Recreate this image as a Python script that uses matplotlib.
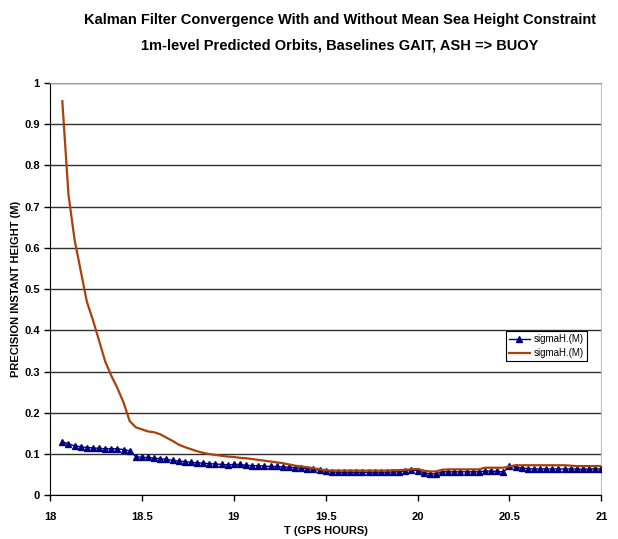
import numpy as np
import matplotlib.pyplot as plt

# time in GPS hours, one epoch every 2 minutes
t_start = 18.0667
n_pts = 89
hours = t_start + np.arange(n_pts) / 30.0

# sigmaH with mean sea height constraint (blue triangles)
sigma_constr = [0.130, 0.125, 0.120, 0.118, 0.116, 0.115, 0.114, 0.113, 0.113, 0.113,
                0.111, 0.108, 0.094, 0.092, 0.092, 0.090, 0.089, 0.087, 0.085, 0.083,
                0.082, 0.080, 0.079, 0.078, 0.077, 0.076, 0.075, 0.074, 0.075, 0.075,
                0.073, 0.072, 0.072, 0.071, 0.070, 0.070, 0.069, 0.068, 0.067, 0.066,
                0.065, 0.063, 0.061, 0.059, 0.057, 0.056, 0.056, 0.056, 0.056, 0.056,
                0.056, 0.056, 0.056, 0.056, 0.057, 0.057, 0.060, 0.061, 0.060, 0.055,
                0.052, 0.052, 0.057, 0.057, 0.057, 0.057, 0.057, 0.057, 0.057, 0.059,
                0.059, 0.058, 0.057, 0.070, 0.069, 0.066, 0.065, 0.064, 0.064, 0.064,
                0.064, 0.064, 0.064, 0.064, 0.064, 0.063, 0.064, 0.064, 0.064]

# sigmaH without constraint (brown line)
sigma_free = [0.956, 0.730, 0.620, 0.545, 0.470, 0.425, 0.375, 0.325, 0.290, 0.260,
              0.225, 0.180, 0.165, 0.160, 0.155, 0.153, 0.148, 0.140, 0.132, 0.123,
              0.117, 0.112, 0.107, 0.103, 0.100, 0.098, 0.096, 0.094, 0.093, 0.091,
              0.090, 0.088, 0.086, 0.084, 0.082, 0.080, 0.078, 0.075, 0.072, 0.070,
              0.068, 0.066, 0.063, 0.061, 0.060, 0.060, 0.060, 0.060, 0.060, 0.060,
              0.060, 0.060, 0.060, 0.060, 0.061, 0.061, 0.062, 0.063, 0.064, 0.060,
              0.058, 0.058, 0.062, 0.063, 0.063, 0.063, 0.063, 0.063, 0.063, 0.067,
              0.067, 0.067, 0.067, 0.070, 0.073, 0.073, 0.073, 0.073, 0.073, 0.073,
              0.073, 0.073, 0.073, 0.072, 0.071, 0.071, 0.071, 0.071, 0.071]

x_ticks = [18, 18.5, 19, 19.5, 20, 20.5, 21]
x_tick_labels = ['18', '18.5', '19', '19.5', '20', '20.5', '21']
y_ticks = np.round(np.arange(0, 1.01, 0.1), 1)
y_tick_labels = ['0', '0.1', '0.2', '0.3', '0.4', '0.5', '0.6', '0.7', '0.8', '0.9', '1']

plt.rcParams['font.family'] = ['Liberation Sans', 'DejaVu Sans']

fig = plt.figure(figsize=(6.18, 5.39), dpi=100)
ax = fig.add_axes([0.081, 0.081, 0.892, 0.765])

ax.plot(hours, sigma_constr, color='#000080', marker='^', markersize=4.5,
        linewidth=1, label='sigmaH.(M)', zorder=3)
ax.plot(hours, sigma_free, color='#a8420c', linewidth=1.6, label='sigmaH.(M)', zorder=4)

ax.set_xlim(18, 21)
ax.set_ylim(0, 1)
ax.set_xticks(x_ticks)
ax.set_xticklabels(x_tick_labels, fontsize=8, fontweight='bold')
ax.set_yticks(y_ticks)
ax.set_yticklabels(y_tick_labels, fontsize=8, fontweight='bold')
ax.tick_params(axis='both', direction='out', length=4, width=1, color='black')
ax.tick_params(axis='x', pad=8)

ax.yaxis.grid(True, color='#303030', linewidth=1)
ax.set_axisbelow(True)
ax.spines['top'].set_color('#a0a0a0')
ax.spines['right'].set_color('#c0c0c0')
ax.spines['left'].set_color('black')
ax.spines['bottom'].set_color('black')

ax.set_xlabel('T (GPS HOURS)', fontsize=8, fontweight='bold', labelpad=3)
ax.set_ylabel('PRECISION INSTANT HEIGHT (M)', fontsize=8, fontweight='bold', labelpad=2)

fig.text(0.55, 0.962, 'Kalman Filter Convergence With and Without Mean Sea Height Constraint',
         ha='center', va='center', fontsize=10.5, fontweight='bold')
fig.text(0.55, 0.916, '1m-level Predicted Orbits, Baselines GAIT, ASH => BUOY',
         ha='center', va='center', fontsize=10.5, fontweight='bold')

leg = ax.legend(loc='upper left', bbox_to_anchor=(0.818, 0.41), fontsize=7,
                frameon=True, fancybox=False, framealpha=1, edgecolor='black',
                handlelength=2.2, handletextpad=0.4, borderpad=0.3, labelspacing=0.4)
leg.get_frame().set_linewidth(0.8)

fig.savefig('out.png', dpi=100)
